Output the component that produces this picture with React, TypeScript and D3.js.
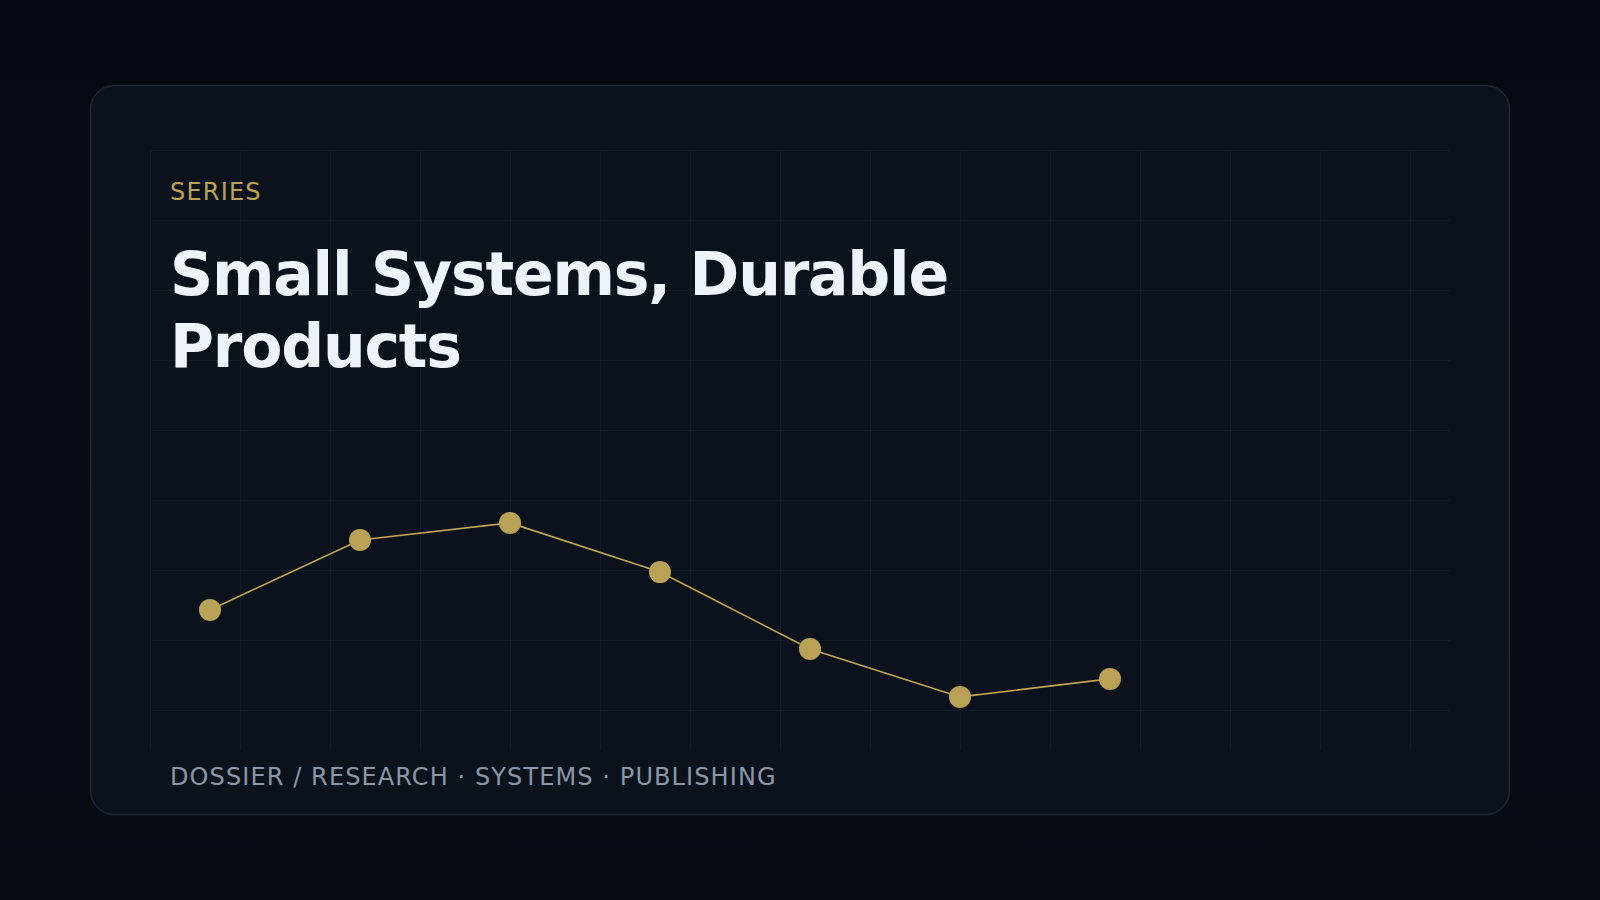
import React from "react";
import * as d3 from "d3";

const W = 1600;
const H = 900;

// data
const labels = ["P1", "P2", "P3", "P4", "P5", "P6", "P7"];
const values = [46.7, 70.0, 75.7, 59.3, 33.7, 17.7, 23.7];

const eyebrow = "SERIES";
const titleLines = ["Small Systems, Durable", "Products"];
const footer = "DOSSIER / RESEARCH · SYSTEMS · PUBLISHING";

const card = { x: 90.5, y: 85.5, w: 1419, h: 729, r: 24 };
const grid = { x0: 150, y0: 150, x1: 1450, y1: 750, dx: 90, dy: 70 };

export default function App() {
  const x = d3.scaleLinear().domain([0, labels.length - 1]).range([210, 1110]);
  const y = d3.scaleLinear().domain([0, 100]).range([750, 450]);

  const line = d3
    .line<number>()
    .x((_, i) => x(i))
    .y((d) => y(d));

  const vLines = d3.range(grid.x0, grid.x1, grid.dx);
  const hLines = d3.range(grid.y0, grid.y1, grid.dy);

  return (
    <div style={{ position: "fixed", left: 0, top: 0, width: W, height: H }}>
      <svg width={W} height={H} viewBox={`0 0 ${W} ${H}`} style={{ display: "block" }}>
        <defs>
          <linearGradient id="bg" x1="0" y1="0" x2="0" y2="1">
            <stop offset="0" stopColor="#050911" />
            <stop offset="1" stopColor="#070b12" />
          </linearGradient>
        </defs>
        <rect x={0} y={0} width={W} height={H} fill="url(#bg)" />
        <rect
          x={card.x}
          y={card.y}
          width={card.w}
          height={card.h}
          rx={card.r}
          fill="#0c121c"
          stroke="#1e2738"
          strokeWidth={1.5}
        />
        <g stroke="#141b27" strokeWidth={1}>
          {vLines.map((v) => (
            <line key={"v" + v} x1={v + 0.5} x2={v + 0.5} y1={grid.y0} y2={grid.y1} />
          ))}
          {hLines.map((h) => (
            <line key={"h" + h} x1={grid.x0} x2={grid.x1} y1={h + 0.5} y2={h + 0.5} />
          ))}
        </g>
        <text
          x={170}
          y={200}
          fill="#bba257"
          fontFamily="DejaVu Sans"
          fontSize={24}
          letterSpacing={1.2}
        >
          {eyebrow}
        </text>
        <text
          fill="#eef3fa"
          fontFamily="DejaVu Sans"
          fontWeight="bold"
          fontSize={60}
          letterSpacing={-1.2}
        >
          {titleLines.map((t, i) => (
            <tspan key={i} x={170} y={295 + i * 72}>
              {t}
            </tspan>
          ))}
        </text>
        <path d={line(values) || ""} fill="none" stroke="#c2a653" strokeWidth={1.6} />
        {values.map((v, i) => (
          <circle key={labels[i]} cx={x(i)} cy={y(v)} r={11} fill="#b9a255" />
        ))}
        <text
          x={170}
          y={785}
          fill="#8b97a9"
          fontFamily="DejaVu Sans"
          fontSize={24}
          letterSpacing={1.1}
        >
          {footer}
        </text>
      </svg>
    </div>
  );
}
